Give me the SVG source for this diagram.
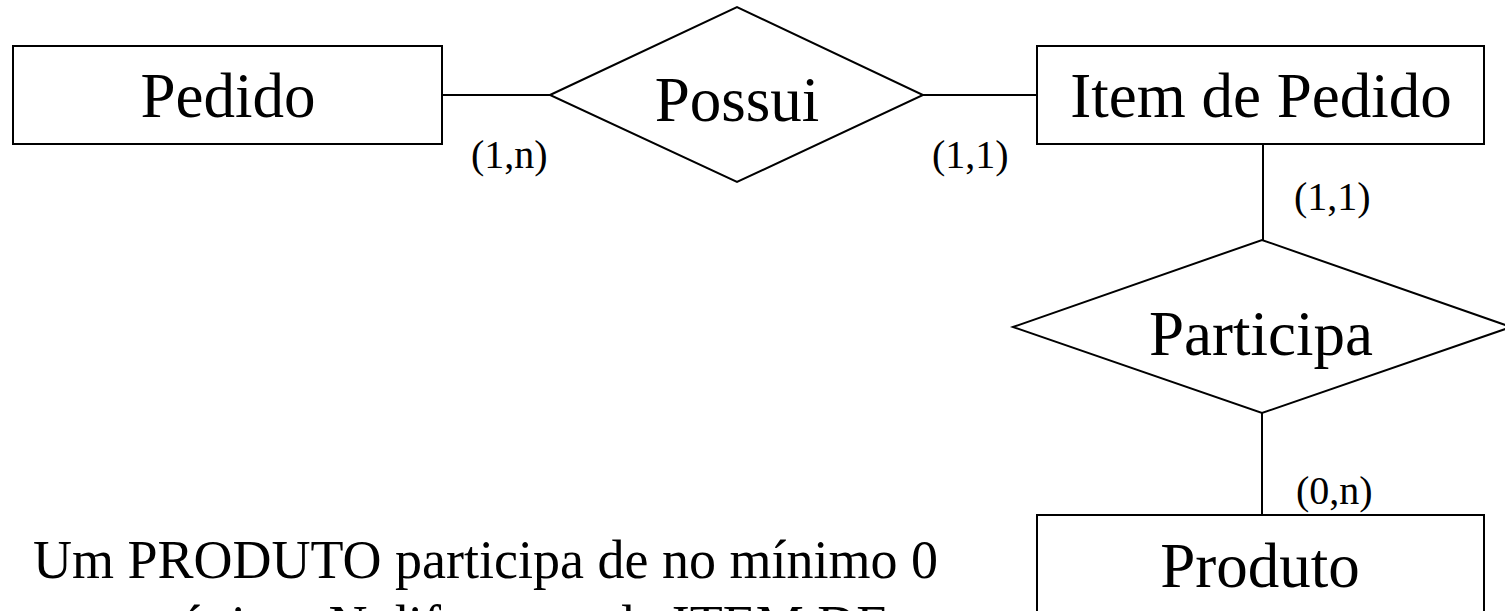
<svg xmlns="http://www.w3.org/2000/svg" width="1505" height="611" viewBox="0 0 1505 611">
  <style>
    .shape { fill: #ffffff; stroke: #000000; stroke-width: 2; }
    .edge { stroke: #000000; stroke-width: 2; fill: none; }
    .label { font-family: "Liberation Serif", "Times New Roman", serif; font-size: 63px; fill: #000000; text-anchor: middle; }
    .card { font-family: "Liberation Serif", "Times New Roman", serif; font-size: 40px; fill: #000000; }
    .note { font-family: "Liberation Serif", "Times New Roman", serif; font-size: 54px; fill: #000000; }
  </style>
  <rect width="1505" height="611" fill="#ffffff"/>

  <!-- connectors -->
  <g id="connectors">
    <line class="edge" x1="442" y1="95" x2="550" y2="95"/>
    <line class="edge" x1="923" y1="95" x2="1037" y2="95"/>
    <line class="edge" x1="1263" y1="144" x2="1263" y2="240"/>
    <line class="edge" x1="1262" y1="413" x2="1262" y2="515"/>
  </g>

  <!-- entities -->
  <g id="pedido">
    <rect class="shape" x="13" y="46" width="429" height="98"/>
    <text class="label" x="228" y="117">Pedido</text>
  </g>
  <g id="item-de-pedido">
    <rect class="shape" x="1037" y="46" width="447" height="98"/>
    <text class="label" x="1261" y="117">Item de Pedido</text>
  </g>
  <g id="produto">
    <rect class="shape" x="1037" y="515" width="447" height="110"/>
    <text class="label" x="1260" y="587">Produto</text>
  </g>

  <!-- relationships -->
  <g id="possui">
    <polygon class="shape" points="550,95 737,7 923,95 737,182"/>
    <text class="label" x="737" y="121">Possui</text>
  </g>
  <g id="participa">
    <polygon class="shape" points="1013,327 1262,240 1511,327 1262,413"/>
    <text class="label" x="1261" y="355">Participa</text>
  </g>

  <!-- cardinalities -->
  <g id="cardinalities">
    <text class="card" x="471" y="168">(1,n)</text>
    <text class="card" x="932" y="168">(1,1)</text>
    <text class="card" x="1294" y="210">(1,1)</text>
    <text class="card" x="1296" y="504">(0,n)</text>
  </g>

  <!-- explanatory note -->
  <g id="note">
    <text class="note" x="33" y="578">Um PRODUTO participa de no mínimo 0</text>
    <text class="note" x="33" y="643">e no máximo N diferentes de ITEM DE</text>
  </g>
</svg>
